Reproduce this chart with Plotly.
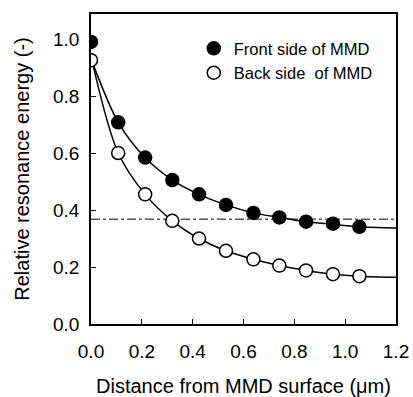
import plotly.graph_objects as go

# Data
dist = [0.0, 0.107, 0.213, 0.32, 0.425, 0.531, 0.639, 0.741, 0.846, 0.952, 1.056]
front = [0.99, 0.708, 0.584, 0.505, 0.455, 0.418, 0.39, 0.374, 0.359, 0.352, 0.341]
back = [0.926, 0.60, 0.455, 0.362, 0.30, 0.257, 0.227, 0.205, 0.188, 0.175, 0.168]

# Fitted curves
fit_x = [0.005, 0.107, 0.213, 0.32, 0.425, 0.531, 0.639, 0.741, 0.846, 0.952, 1.056, 1.2]
fit_front = [0.92, 0.708, 0.584, 0.505, 0.455, 0.418, 0.39, 0.374, 0.359, 0.35, 0.341, 0.337]
fit_back = [0.92, 0.60, 0.455, 0.362, 0.30, 0.257, 0.227, 0.205, 0.188, 0.175, 0.168, 0.164]

ref_level = 0.368
ref_x = [0.0, 1.2]

FONT = "Arial, Liberation Sans, sans-serif"

fig = go.Figure()
fig.add_trace(go.Scatter(x=ref_x, y=[ref_level, ref_level], mode="lines",
                         line=dict(color="black", width=1, dash="dashdot"),
                         showlegend=False, hoverinfo="skip"))
fig.add_trace(go.Scatter(x=fit_x, y=fit_front, mode="lines",
                         line=dict(color="black", width=1.5, shape="spline", smoothing=0.9),
                         showlegend=False))
fig.add_trace(go.Scatter(x=fit_x, y=fit_back, mode="lines",
                         line=dict(color="black", width=1.5, shape="spline", smoothing=0.9),
                         showlegend=False))
fig.add_trace(go.Scatter(x=dist, y=front, mode="markers", name="Front side of MMD",
                         marker=dict(symbol="circle", size=13, color="black",
                                     line=dict(color="black", width=1.5))))
fig.add_trace(go.Scatter(x=dist, y=back, mode="markers", name="Back side  of MMD",
                         marker=dict(symbol="circle", size=13, color="white",
                                     line=dict(color="black", width=1.5))))

axis_common = dict(showline=True, linecolor="black", linewidth=1.5, mirror=True,
                   ticks="inside", ticklen=5, tickwidth=1, tickcolor="black",
                   showgrid=False, zeroline=False, automargin=False,
                   tickfont=dict(family=FONT, size=19, color="black"))

fig.update_xaxes(range=[0, 1.2], tick0=0, dtick=0.2, tickformat=".1f",
                 ticklabelstandoff=9,
                 title=dict(text="Distance from MMD surface (μm)",
                            font=dict(family=FONT, size=20, color="black"), standoff=19),
                 **axis_common)
fig.update_yaxes(range=[0, 1.088], tick0=0, dtick=0.2, tickformat=".1f",
                 ticklabelstandoff=6,
                 title=dict(text="Relative resonance energy (-)",
                            font=dict(family=FONT, size=20, color="black"), standoff=18),
                 **axis_common)

fig.update_layout(
    width=413, height=397,
    margin=dict(l=91, r=17, t=14, b=73),
    paper_bgcolor="white", plot_bgcolor="white",
    font=dict(family=FONT, color="black"),
    legend=dict(x=0.337, y=0.945, xanchor="left", yanchor="top",
                bgcolor="rgba(0,0,0,0)", font=dict(family=FONT, size=16.5, color="black"),
                itemsizing="trace", tracegroupgap=0),
)

fig.write_html("out.html")
